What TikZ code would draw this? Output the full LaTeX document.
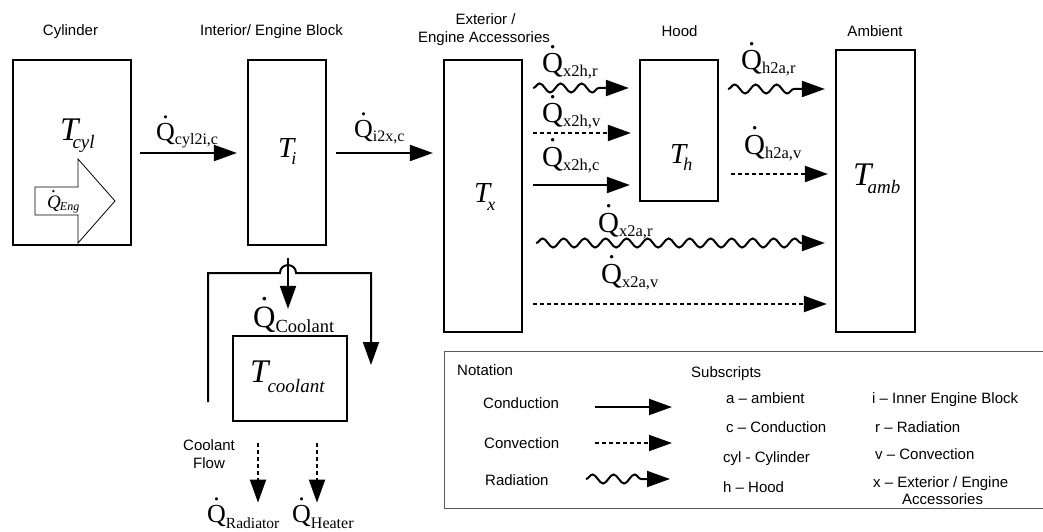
\documentclass[tikz,border=0pt]{standalone}
\usepackage{fontspec}
\setmainfont{Liberation Sans}
\newfontfamily\tnr{Liberation Serif}
\usetikzlibrary{arrows.meta,decorations.pathmorphing,calc}
\newcommand\qdotm{\ooalign{Q\cr\hidewidth\raisebox{0.84em}{.}\hidewidth\cr}}
\newcommand\QL[1]{{\tnr\fontsize{29}{29}\selectfont\qdotm}{\tnr\fontsize{16.5}{16.5}\selectfont\raisebox{-4pt}{#1}}}
\newcommand\QLb[1]{{\tnr\fontsize{26}{26}\selectfont\qdotm}{\tnr\fontsize{16}{16}\selectfont\raisebox{-4pt}{#1}}}
\tikzset{
  box/.style={draw, line width=2.2pt, inner sep=0pt},
  conda/.style={line width=2pt, -{Triangle[length=23pt,width=16pt]}},
  conva/.style={conda, dash pattern=on 4pt off 3pt},
  rada/.style={conda, decorate, decoration={snake, amplitude=4.5pt, segment length=21pt, post length=22pt}},
  lbl/.style={inner sep=0pt, anchor=base west},
  ttl/.style={inner sep=0pt, anchor=base, font=\fontsize{15}{18}\selectfont},
  leg/.style={inner sep=0pt, anchor=base west, font=\fontsize{15}{18}\selectfont},
}
\begin{document}
\begin{tikzpicture}[x=1pt,y=-1pt]
\useasboundingbox (0,0) rectangle (1043,532);
% titles
\node[ttl] (tcyltitle) at (70.5,36) {Cylinder};
\node[ttl] (tititle) at (271.5,36) {Interior/ Engine Block};
\node[ttl] (txtitle1) at (485.5,25) {Exterior /};
\node[ttl] (txtitle2) at (484,42.5) {Engine Accessories};
\node[ttl] (thtitle) at (679.5,36.5) {Hood};
\node[ttl] (tambtitle) at (875,37) {Ambient};
% boxes
\node[box, minimum width=118pt, minimum height=185pt] (cyl) at (72,152.5) {};
\node[box, minimum width=78pt, minimum height=185pt] (ti) at (287,152.5) {};
\node[box, minimum width=78pt, minimum height=272pt] (tx) at (483,196) {};
\node[box, minimum width=78pt, minimum height=141pt] (th) at (679,130.5) {};
\node[box, minimum width=79pt, minimum height=282pt] (tamb) at (875.5,191) {};
\node[box, minimum width=114pt, minimum height=85pt] (tcool) at (290,378.5) {};
% temperature labels
\node[lbl] (lcyl) at (60,140) {\tnr\itshape\fontsize{33}{33}\selectfont T\kern-6pt\raisebox{-8pt}{\fontsize{19}{19}\selectfont cyl}};
\node[lbl] (li) at (278,157) {\tnr\itshape\fontsize{29}{29}\selectfont T\kern-3pt\raisebox{-7pt}{\fontsize{18}{18}\selectfont i}};
\node[lbl] (lx) at (474,202) {\tnr\itshape\fontsize{29}{29}\selectfont T\kern-3pt\raisebox{-8pt}{\fontsize{18}{18}\selectfont x}};
\node[lbl] (lh) at (670,163) {\tnr\itshape\fontsize{29}{29}\selectfont T\kern-3pt\raisebox{-7pt}{\fontsize{18}{18}\selectfont h}};
\node[lbl] (lamb) at (853,185) {\tnr\itshape\fontsize{33}{33}\selectfont T\kern-4pt\raisebox{-8pt}{\fontsize{19}{19}\selectfont amb}};
\node[lbl] (lcool) at (250,382) {\tnr\itshape\fontsize{33}{33}\selectfont T\kern-1pt\raisebox{-10pt}{\fontsize{19}{19}\selectfont coolant}};
% engine heat arrow
\draw[line width=0.8pt] (35,187) -- (78,187) -- (78,159) -- (115,201) -- (78,243) -- (78,215) -- (35,215) -- cycle;
\node[lbl] (leng) at (47,208) {\tnr\itshape\fontsize{19}{19}\selectfont\qdotm\kern-1pt\raisebox{-2pt}{\fontsize{12}{12}\selectfont Eng}};
% flow arrows
\draw[conda] ($(cyl.east|-0,153)+(8,0)$) -- ($(ti.west|-0,153)+(-10,0)$);
\node[lbl] (qcyl) at (156,140) {\QLb{cyl2i,c}};
\draw[conda] ($(ti.east|-0,153)+(9,0)$) -- ($(tx.west|-0,153)+(-10,0)$);
\node[lbl] (qi2x) at (354,137) {\QLb{i2x,c}};
\draw[rada] ($(tx.east|-0,88)+(10,0)$) -- ($(th.west|-0,88)+(-10,0)$);
\node[lbl] (qx2hr) at (542,73) {\QL{x2h,r}};
\draw[conva] ($(tx.east|-0,133)+(10,0)$) -- ($(th.west|-0,133)+(-8,0)$);
\node[lbl] (qx2hv) at (542,123) {\QL{x2h,v}};
\draw[conda] ($(tx.east|-0,185)+(10,0)$) -- ($(th.west|-0,185)+(-9,0)$);
\node[lbl] (qx2hc) at (542,166) {\QL{x2h,c}};
\draw[rada] ($(th.east|-0,89)+(9,0)$) -- ($(tamb.west|-0,89)+(-10,0)$);
\node[lbl] (qh2ar) at (741,70) {\QL{h2a,r}};
\draw[conva] ($(th.east|-0,174)+(12,0)$) -- ($(tamb.west|-0,174)+(-7,0)$);
\node[lbl] (qh2av) at (744,154) {\QL{h2a,v}};
\draw[rada] ($(tx.east|-0,243)+(13,0)$) -- ($(tamb.west|-0,243)+(-10,0)$);
\node[lbl] (qx2ar) at (598,232) {\QL{x2a,r}};
\draw[conva] ($(tx.east|-0,304)+(10,0)$) -- ($(tamb.west|-0,304)+(-8,0)$);
\node[lbl] (qx2av) at (601,283) {\QL{x2a,v}};
% coolant
\draw[conda] ($(ti.south)+(1,12)$) -- ($(tcool.north -| ti.south)+(1,-26)$);
\node[lbl] (qcoolant) at (253,327) {{\tnr\fontsize{31}{31}\selectfont\qdotm}{\tnr\fontsize{18.5}{18.5}\selectfont\raisebox{-5pt}{Coolant}}};
\coordinate (loopA) at (208,402);
\coordinate (loopB) at (371,365);
\draw[conda] (loopA) -- (208,273) -- (280,273) .. controls (280,262.5) and (296,262.5) .. (296,273) -- (371,273) -- (loopB);
\node[leg] (cflow1) at (183,450) {Coolant};
\node[leg] (cflow2) at (193,468) {Flow};
\node[lbl] (qrad) at (207,522) {{\tnr\fontsize{26}{26}\selectfont\qdotm}{\tnr\fontsize{15.5}{15.5}\selectfont\raisebox{-6pt}{Radiator}}};
\node[lbl] (qheat) at (292,522) {{\tnr\fontsize{26}{26}\selectfont\qdotm}{\tnr\fontsize{16}{16}\selectfont\raisebox{-6pt}{Heater}}};
\coordinate (radA) at (258,443);
\coordinate (heatA) at (317,443);
\draw[conva] (radA) -- ($(qrad.north -| radA)+(0,-2)$);
\draw[conva] (heatA) -- ($(qheat.north -| heatA)+(0,-2)$);
% legend
\draw[line width=1pt, color=black!65] (1043,351) -- (444,351) -- (444,508) -- (1043,508);
\node[leg] (notation) at (457,375) {Notation};
\node[leg] (lgcond) at (483,408) {Conduction};
\node[leg] (lgconv) at (484,448) {Convection};
\node[leg] (lgrad) at (485,485) {Radiation};
\coordinate (lgc1) at (595,407); \coordinate (lgc2) at (672,407);
\coordinate (lgv1) at (595,443); \coordinate (lgv2) at (672,443);
\coordinate (lgr1) at (586,479); \coordinate (lgr2) at (670,479);
\draw[conda] (lgc1) -- (lgc2);
\draw[conva] (lgv1) -- (lgv2);
\draw[rada] (lgr1) -- (lgr2);
\node[leg] (subs) at (691,377) {Subscripts};
\node[leg] (sa) at (726,403) {a -- ambient};
\node[leg] (sc) at (726,432) {c -- Conduction};
\node[leg] (scyl) at (723,462) {cyl - Cylinder};
\node[leg] (sh) at (723,492) {h -- Hood};
\node[leg] (si) at (872,403) {i -- Inner Engine Block};
\node[leg] (sr) at (875,432) {r -- Radiation};
\node[leg] (sv) at (875,459) {v -- Convection};
\node[leg] (sx) at (873,487) {x -- Exterior / Engine};
\node[leg] (sx2) at (902,504) {Accessories};
\end{tikzpicture}
\end{document}
